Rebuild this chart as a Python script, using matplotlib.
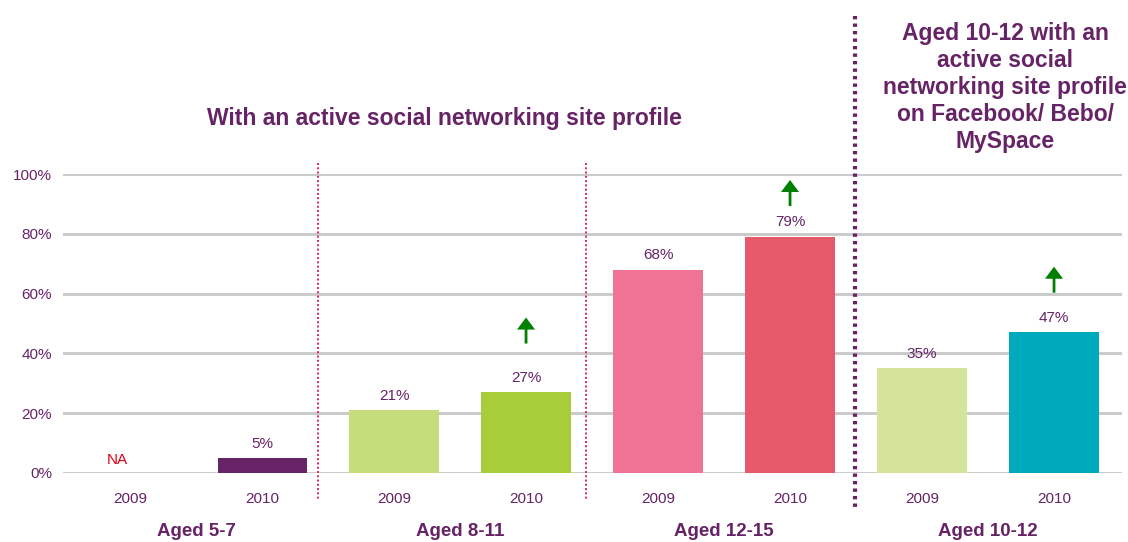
import matplotlib.pyplot as plt
import numpy as np

plt.rcParams['font.family'] = ['Liberation Sans', 'DejaVu Sans']

years = ['2009', '2010', '2009', '2010', '2009', '2010', '2009', '2010']
values = [None, 5, 21, 27, 68, 79, 35, 47]
colors = ['#662366', '#662366', '#c5dd7b', '#a8cd3a',
          '#f07396', '#e75a6b', '#d4e49a', '#00aabd']
# tip height (in %) of the green "increase" arrows, None = no arrow
arrow_tips = [None, None, None, 52, None, 98, None, 69]
groups = ['Aged 5-7', 'Aged 8-11', 'Aged 12-15', 'Aged 10-12']
yticks = [0, 20, 40, 60, 80, 100]

purple = '#662366'

fig = plt.figure(figsize=(11.28, 5.42), dpi=100)
ax = fig.add_axes([63 / 1128, 1 - 473 / 542, (1122 - 63) / 1128, (473 - 174) / 542])

x = np.arange(len(values))
for i, v in enumerate(values):
    if v is None:
        ax.text(i - 0.1, 2, 'NA', color='#e0001b', fontsize=11, ha='center', va='bottom')
        continue
    ax.bar(i, v, width=0.675, color=colors[i], zorder=3)
    ax.text(i, v + 2.5, f'{v}%', color=purple, fontsize=11, ha='center', va='bottom')
    if arrow_tips[i] is not None:
        tip = arrow_tips[i]
        ax.annotate('', xy=(i, tip), xytext=(i, tip - 8.7),
                    arrowprops=dict(arrowstyle='-|>,head_width=0.45,head_length=0.6',
                                    color='#008000', lw=2.0, shrinkA=0, shrinkB=0,
                                    joinstyle='miter', capstyle='butt'))

ax.set_xlim(-0.508, 7.515)
ax.set_ylim(0, 100)
ax.set_yticks(yticks)
ax.set_yticklabels([f'{t}%' for t in yticks])
ax.set_xticks(x)
ax.set_xticklabels(years)
ax.tick_params(axis='both', length=0, colors=purple, labelsize=11)
ax.tick_params(axis='x', pad=14)
ax.tick_params(axis='y', pad=8)
for t in yticks:
    ax.axhline(t, color='#c8c8c8', lw=2, zorder=1)
for s in ax.spines.values():
    s.set_visible(False)

# separators between groups
for xs in [1.425, 3.455]:
    ax.plot([xs, xs], [103.7, -9], color='#e0245e', lw=1.4, ls=(0, (1, 1.2)),
            clip_on=False, zorder=2)
ax.plot([5.49, 5.49], [153, -12.4], color=purple, lw=3, ls=(0, (0.8, 1.0)),
        clip_on=False, zorder=2)

for g, name in enumerate(groups):
    ax.text(2 * g + 0.5, -19.5, name, color=purple, fontsize=13.5, fontweight='bold',
            ha='center', va='center', clip_on=False)

ax.text(2.38, 118.4, 'With an active social networking site profile', color=purple,
        fontsize=16.5, fontweight='bold', ha='center', va='center', clip_on=False)
ax.text(6.63, 129, 'Aged 10-12 with an\nactive social\nnetworking site profile\non Facebook/ Bebo/\nMySpace',
        color=purple, fontsize=16.5, fontweight='bold', ha='center', va='center',
        linespacing=1.22, clip_on=False)

fig.savefig('out.png', dpi=100)
